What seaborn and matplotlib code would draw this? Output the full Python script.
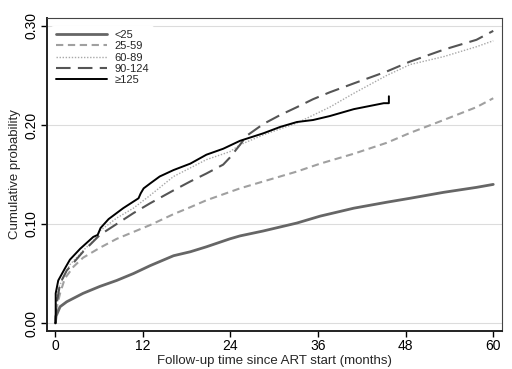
import matplotlib
matplotlib.use("Agg")
import matplotlib.pyplot as plt
import seaborn as sns
import pandas as pd

sns.set_style("white")
plt.rcParams["font.family"] = ["Liberation Sans", "DejaVu Sans"]

# Cumulative probability curves by CD4 group (months since ART start)
t_lt25 = [0, 0.1, 0.65, 1.56, 3.8, 6.1, 8.4, 10.7, 13.0, 16.2, 18.5, 20.7, 23.9,
          25.3, 28.5, 33.1, 36.3, 40.9, 45.4, 48.6, 53.2, 57.7, 60]
y_lt25 = [0, 0.007, 0.0165, 0.0215, 0.030, 0.037, 0.043, 0.050, 0.058, 0.068, 0.072,
          0.077, 0.085, 0.088, 0.093, 0.101, 0.108, 0.116, 0.122, 0.126, 0.132, 0.137, 0.140]

t_25_59 = [0, 0.1, 0.65, 1.3, 2.5, 3.8, 6.1, 8.4, 10.7, 13.0, 16.2, 18.5, 20.7, 23.0,
           25.3, 28.5, 33.1, 36.3, 40.9, 45.4, 48.6, 53.2, 57.7, 60]
y_25_59 = [0, 0.013, 0.030, 0.045, 0.057, 0.066, 0.076, 0.085, 0.092, 0.099, 0.110,
           0.117, 0.124, 0.130, 0.136, 0.143, 0.153, 0.161, 0.171, 0.182, 0.192, 0.205,
           0.218, 0.227]

t_60_89 = [0, 0.1, 0.4, 2.0, 3.8, 5.7, 6.1, 8.4, 10.7, 13.0, 16.2, 20.7, 23.9, 25.3,
           28.5, 33.1, 37.6, 40.9, 45.4, 48.6, 53.2, 57.7, 60]
y_60_89 = [0, 0.020, 0.035, 0.059, 0.073, 0.087, 0.093, 0.106, 0.116, 0.129, 0.148,
           0.165, 0.173, 0.180, 0.190, 0.202, 0.218, 0.232, 0.250, 0.261, 0.269, 0.279,
           0.285]

t_90_124 = [0, 0.2, 0.65, 1.56, 3.8, 6.1, 8.4, 10.7, 13.0, 16.2, 18.5, 20.7, 23.0,
            23.9, 25.3, 26.2, 28.5, 30.8, 33.1, 35.3, 37.6, 40.9, 45.4, 48.6, 53.2,
            57.7, 60]
y_90_124 = [0, 0.020, 0.040, 0.053, 0.072, 0.089, 0.100, 0.111, 0.121, 0.134, 0.143,
            0.151, 0.160, 0.167, 0.180, 0.189, 0.201, 0.210, 0.218, 0.226, 0.233, 0.242,
            0.254, 0.264, 0.276, 0.286, 0.295]

t_ge125 = [0, 0.05, 0.05, 0.4, 1.3, 2.0, 3.4, 5.2, 5.8, 6.2, 7.3, 9.3, 11.4, 11.7,
           12.1, 13.0, 14.3, 16.2, 18.5, 20.7, 23.0, 25.3, 28.5, 30.8, 33.1, 35.3,
           37.6, 40.9, 45.0, 45.7, 45.7]
y_ge125 = [0, 0, 0.030, 0.043, 0.055, 0.064, 0.075, 0.087, 0.089, 0.096, 0.105, 0.116,
           0.126, 0.131, 0.136, 0.141, 0.148, 0.1545, 0.161, 0.170, 0.176, 0.184, 0.1916,
           0.198, 0.203, 0.205, 0.209, 0.216, 0.222, 0.222, 0.229]

labels = ["<25", "25-59", "60-89", "90-124", "≥125"]
series = [(t_lt25, y_lt25), (t_25_59, y_25_59), (t_60_89, y_60_89),
          (t_90_124, y_90_124), (t_ge125, y_ge125)]
styles = [
    dict(color="#666666", linewidth=2.0, linestyle="-"),
    dict(color="#a0a0a0", linewidth=1.5, linestyle=(0, (3.5, 2.2))),
    dict(color="#a8a8a8", linewidth=1.0, linestyle=(0, (1, 1.2))),
    dict(color="#555555", linewidth=1.5, linestyle=(0, (7, 3.5))),
    dict(color="#000000", linewidth=1.4, linestyle="-"),
]

fig = plt.figure(figsize=(5.12, 3.69), dpi=100)
ax = fig.add_axes([0.0918, 0.103, 0.8887, 0.8482])

handles = []
for lab, (t, y), st in zip(labels, series, styles):
    df = pd.DataFrame({"t": t, "p": y})
    sns.lineplot(data=df, x="t", y="p", ax=ax, estimator=None, sort=False,
                 label=lab, **st)
    handles.append(ax.lines[-1])

ax.set_xlim(-1.14, 61.2)
ax.set_ylim(-0.008, 0.308)
ax.set_xticks([0, 12, 24, 36, 48, 60])
ax.set_yticks([0.0, 0.1, 0.2, 0.3])
ax.set_yticklabels(["0.00", "0.10", "0.20", "0.30"], rotation=90, va="center")
ax.yaxis.grid(True, color="#dcdcdc", linewidth=0.8)
ax.set_axisbelow(True)
ax.tick_params(axis="both", direction="out", length=4, width=1, labelsize=10,
               colors="#000000", pad=2)
ax.tick_params(left=True, bottom=True)

for side in ["left", "bottom"]:
    ax.spines[side].set_linewidth(1.4)
    ax.spines[side].set_color("#222222")
for side in ["top", "right"]:
    ax.spines[side].set_linewidth(0.8)
    ax.spines[side].set_color("#444444")

ax.set_xlabel("Follow-up time since ART start (months)", fontsize=9.5, labelpad=1)
ax.set_ylabel("Cumulative probability", fontsize=9.5, labelpad=3)

leg = ax.legend(handles=handles, labels=labels, loc="upper left",
                bbox_to_anchor=(0.0, 0.99), fontsize=8, handlelength=4.6,
                handletextpad=0.7, labelspacing=0.12, borderaxespad=0.4,
                frameon=True, facecolor="white", edgecolor="none", framealpha=1)

fig.savefig("out.png", dpi=100)
